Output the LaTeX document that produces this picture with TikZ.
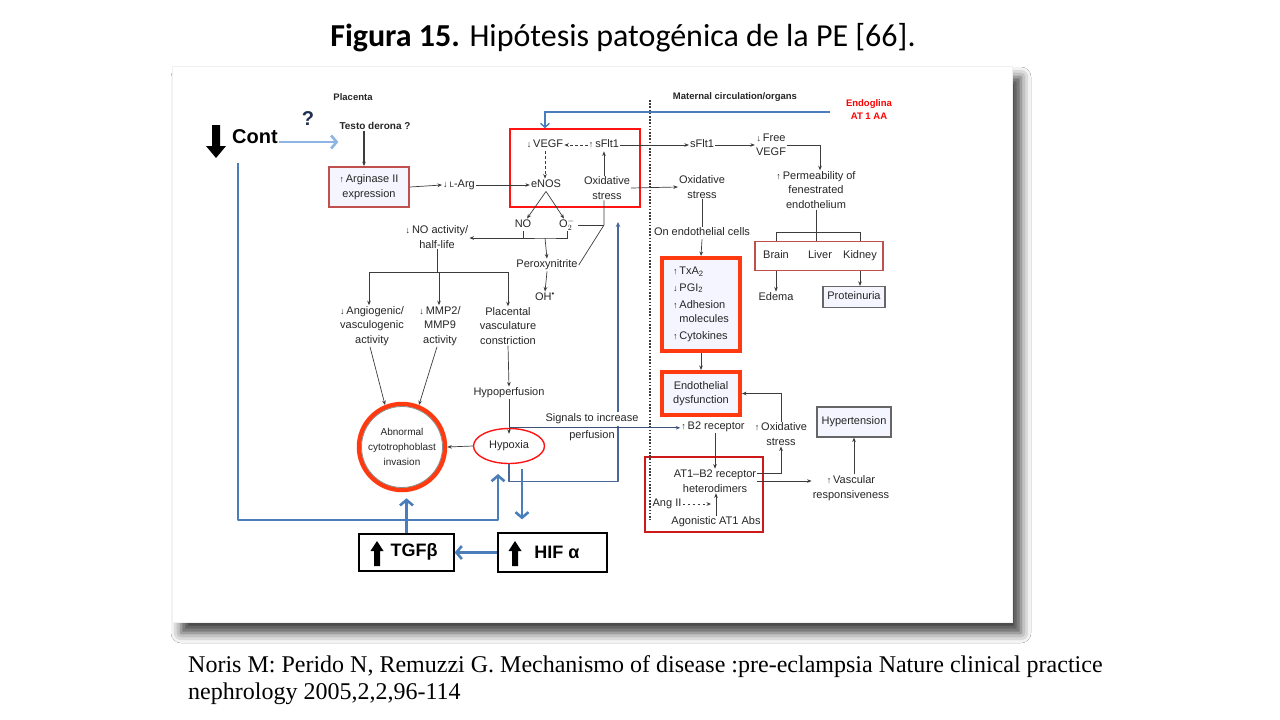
\documentclass[tikz,border=0pt]{standalone}
\usepackage{fontspec}
\setmainfont{Liberation Sans}
\newfontfamily\titlefont{Carlito}
\newfontfamily\reffont{Liberation Serif}
\usetikzlibrary{arrows.meta,shapes.geometric,shadows.blur,calc}
\definecolor{obl}{HTML}{4A7EBB}
\definecolor{lblue}{HTML}{8EB4E3}
\definecolor{bred}{HTML}{FF1414}
\definecolor{ored}{HTML}{FF3A10}
\definecolor{dred}{HTML}{C0504D}
\definecolor{mred}{HTML}{CC1A1A}
\definecolor{ln}{HTML}{3C3C3C}
\definecolor{lnb}{HTML}{4B679A}
\definecolor{navy}{HTML}{1F3050}
\definecolor{tx}{HTML}{262626}
\newcommand\myup{{\fontsize{9}{9}\selectfont↑}}
\newcommand\mydn{{\fontsize{9}{9}\selectfont↓}}
\begin{document}
\begin{tikzpicture}[x=1pt,y=-1pt,
  txt/.style={font=\fontsize{11}{14.5}\selectfont, align=center, inner sep=1pt, text=tx},
  one/.style={txt, text height=8pt, text depth=2.5pt},
  hdr/.style={font=\bfseries\fontsize{9.5}{12}\selectfont, inner sep=1pt, text=tx},
  conn/.style={draw=ln, line width=0.7pt},
  arr/.style={conn, -{Stealth[length=4.5pt,width=3.6pt]}},
  dasharr/.style={arr, dash pattern=on 2.5pt off 2.5pt},
  blarr/.style={draw=obl, line width=2.6pt, line join=round, -{Straight Barb[length=5.5pt,width=13pt]}},
  blthin/.style={draw=obl, line width=1.4pt, -{Straight Barb[length=4pt,width=9pt]}},
  lbarr/.style={draw=lblue, line width=2.6pt, -{Straight Barb[length=5.5pt,width=13pt]}},
  loopst/.style={draw=lnb, line width=1.4pt, line join=round, -{Stealth[length=5pt,width=4.5pt]}},
  tbox/.style={txt, draw=#1, fill=blue!4},
  bigbox/.style={draw=black, line width=1.3pt, fill=white},
  bigtxt/.style={font=\bfseries\fontsize{18}{20}\selectfont, inner sep=0pt}
]
\useasboundingbox (0,0) rectangle (1280,720);
\fill[white] (0,0) rectangle (1280,720);

% title and reference
\node[font=\titlefont\fontsize{32}{36}\selectfont] (title) at (623,38) {\textbf{Figura 15.} Hipótesis patogénica de la PE [66].};
\node[anchor=west, font=\reffont\fontsize{24}{28}\selectfont, inner sep=0pt] (ref1) at (188,667) {Noris M: Perido N, Remuzzi G. Mechanismo of disease :pre-eclampsia Nature clinical practice};
\node[anchor=west, font=\reffont\fontsize{24}{28}\selectfont, inner sep=0pt] (ref2) at (188,694) {nephrology 2005,2,2,96-114};

% frame with shadow
\path[fill=white, draw=black!6, blur shadow={shadow xshift=9pt, shadow yshift=-11pt, shadow blur radius=10pt, shadow opacity=75}] (172,66) rectangle (1012,622);

% headers
\node[hdr] (placenta) at (353,97) {Placenta};
\node[hdr] (maternal) at (735,97) {Maternal circulation/organs};
\node[font=\bfseries\fontsize{9.5}{13}\selectfont, text=red, align=center, inner sep=1pt] (endog) at (869,110) {Endoglina\\AT 1 AA};
\node[font=\bfseries\fontsize{20}{22}\selectfont, inner sep=1pt, text=black] (cont) at (255,137) {Cont};
\node[font=\bfseries\fontsize{20}{22}\selectfont, inner sep=0pt, text=navy] (qmark) at (308,119) {?};
\node[hdr, font=\bfseries\fontsize{10}{12}\selectfont] (testo) at (375,126) {Testo derona ?};
\fill[black] (212,125) -- (220,125) -- (220,146) -- (226,146) -- (216,158) -- (206,146) -- (212,146) -- cycle;

% placenta side
\node[tbox=dred, line width=1.8pt, minimum width=80, minimum height=40] (arg) at (369,187) {\myup\,Arginase II\\expression};
\node[one] (larg) at (459,185) {\mydn\,{\fontsize{8}{8}\selectfont L}-Arg};
\node[draw=bred, line width=1.6pt, minimum width=130, minimum height=78, inner sep=0pt] (vegfbox) at (575,168) {};
\node[one] (enos) at (546,185) {eNOS};
\node[one] (vegf) at (545,145) {\mydn\,VEGF};
\node[one] (sflt) at (604,145) {\myup\,sFlt1};
\node[txt] (ox1) at (607,188) {Oxidative\\stress};
\node[one] (no) at (523,225) {NO};
\node[one] (o2) at (567,225) {O$_2^-$};
\node[one] (perox) at (547,265) {Peroxynitrite};
\node[one] (oh) at (545,298) {OH\textsuperscript{\textbullet}};
\node[txt] (noact) at (437,237) {\mydn\,NO activity/\\half-life};
\node[txt] (angio) at (372,326) {\mydn\,Angiogenic/\\vasculogenic\\activity};
\node[txt] (mmp) at (440,326) {\mydn\,MMP2/\\MMP9\\activity};
\node[txt] (plac) at (508,326) {Placental\\vasculature\\constriction};
\node[one] (hypoperf) at (509,393) {Hypoperfusion};
\node[txt, ellipse, draw=bred, line width=1.4pt, minimum width=71, minimum height=35, inner sep=0pt] (hyp) at (509,446) {Hypoxia};
\node[txt, circle, draw=ored, line width=4.5pt, minimum size=86, inner sep=0pt, font=\fontsize{10}{15}\selectfont] (circ) at (402,447) {Abnormal\\cytotrophoblast\\invasion};
\draw[black!45, line width=0.8pt] (circ.center) circle (40.5);

% bottom boxes
\node[bigbox, minimum width=95, minimum height=37] (tgf) at (406.5,552.5) {};
\node[bigtxt] (tgft) at (414,552) {TGFβ};
\fill[black] (377,541) -- (383.5,551) -- (380,551) -- (380,566) -- (374,566) -- (374,551) -- (370.5,551) -- cycle;
\node[bigbox, minimum width=109, minimum height=39] (hif) at (552.5,552.5) {};
\node[bigtxt] (hift) at (557,552) {HIF α};
\fill[black] (515,541) -- (521.5,551) -- (518,551) -- (518,566) -- (512,566) -- (512,551) -- (508.5,551) -- cycle;

% maternal side
\node[one] (sflt2) at (702,145) {sFlt1};
\node[txt] (free) at (771,145) {\mydn\,Free\\VEGF};
\node[txt] (perm) at (816,190) {\myup\,Permeability of\\fenestrated\\endothelium};
\node[draw=dred, line width=1.6pt, minimum width=128, minimum height=29, inner sep=0pt] (organs) at (819,256) {};
\node[one] (brain) at (776,256) {Brain};
\node[one] (liver) at (820,256) {Liver};
\node[one] (kidney) at (860,256) {Kidney};
\node[one] (edema) at (776,298) {Edema};
\node[tbox=black!60, line width=1.2pt, minimum width=62, minimum height=21, text height=8pt, text depth=2.5pt] (prot) at (854,297) {Proteinuria};
\node[txt] (ox2) at (702,187) {Oxidative\\stress};
\node[one] (endo) at (702,233) {On endothelial cells};
\node[tbox=ored, line width=4pt, minimum width=78, minimum height=93, align=left, font=\fontsize{11}{13.5}\selectfont] (txbox) at (701,304.5) {\myup\,TxA\textsubscript{2}\\[3pt]\mydn\,PGI\textsubscript{2}\\[4pt]\myup\,Adhesion\\\phantom{\myup\,}molecules\\[4pt]\myup\,Cytokines};
\node[tbox=ored, line width=4pt, minimum width=78, minimum height=43] (endys) at (701,393.5) {Endothelial\\dysfunction};
\node[one] (b2) at (713,427) {\myup\,B2 receptor};
\node[txt] (ox3) at (781,434) {\myup\,Oxidative\\stress};
\node[draw=mred, line width=1.8pt, minimum width=118, minimum height=75, inner sep=0pt] (at1box) at (704,494.5) {};
\node[txt] (at1) at (715,481) {AT1--B2 receptor\\heterodimers};
\node[one] (ang) at (667,504) {Ang II};
\node[one] (agon) at (716,522) {Agonistic AT1 Abs};
\node[txt] (vasc) at (851,488) {\myup\,Vascular\\responsiveness};
\node[tbox=black!60, line width=1.2pt, minimum width=74, minimum height=30, text height=8pt, text depth=2.5pt] (hyper) at (854,422) {Hypertension};

% coordinates
\coordinate (d1) at (650,100);
\coordinate (d2) at (650,520);
\coordinate (e1) at (830,112);
\coordinate (brk) at (545,238);
\coordinate (tr) at (0,272);
\coordinate (bk) at (0,232);
\coordinate (loopend) at (618,222);
\coordinate (c1) at (238,163);
\coordinate (hypin) at (498,474);
\coordinate (h1) at (522,469);

% dotted border
\draw[ln, line width=1.6pt, dash pattern=on 1.6pt off 1.6pt] (d1) -- (d2);

% left connectors
\draw[lbarr] ([yshift=-5pt]cont.east) -- ([yshift=-5pt]cont.east -| testo.west);
\draw[arr, line width=1.1pt] ([xshift=-5pt]arg.north |- testo.south) -- ([xshift=-5pt]arg.north);
\draw[arr] (arg.east) -- (larg.west);
\draw[arr] (larg.east) -- (enos.west);
\draw[dasharr] (sflt.west) -- (vegf.east);
\draw[dasharr] (vegf.south) -- (vegf.south |- enos.north);
\draw[arr] (sflt.south |- ox1.north) -- (sflt.south);
\draw[arr] (enos.south) -- ([xshift=4pt]no.north);
\draw[arr] (enos.south) -- ([xshift=-3pt]o2.north);
\draw[conn] (no.south) |- (brk) -| (o2.south);
\draw[arr] (brk) -- (perox.north);
\draw[arr] (no.south |- brk) -- (noact.east |- brk);
\draw[conn] ([xshift=2pt]o2.east) -- ([xshift=-3pt]ox1.south |- o2.east);
\draw[conn] ([xshift=-3pt]ox1.south) -- ([xshift=-3pt]ox1.south |- o2.east) -- (perox.east);
\draw[arr] (perox.south) -- (oh.north);
\draw[conn] (noact.south) -- (noact.south |- tr);
\draw[conn] ([xshift=-3pt]angio.north |- tr) -- (plac.north |- tr);
\draw[arr] ([xshift=-3pt]angio.north |- tr) -- ([xshift=-3pt]angio.north);
\draw[arr] ([xshift=-1pt]mmp.north |- tr) -- ([xshift=-1pt]mmp.north);
\draw[arr] (plac.north |- tr) -- (plac.north);
\draw[arr] ([xshift=-2pt]angio.south) -- (circ.112);
\draw[arr] ([xshift=-3pt]mmp.south) -- (circ.68);
\draw[arr] (plac.south) -- (hypoperf.north);
\draw[arr] (hypoperf.south) -- ([yshift=-6pt]hyp.north);
\draw[arr] (hyp.west) -- (circ.east);

% hypoxia feedback loop
\draw[loopst] (hyp.south) -- ++(0,17) -| (loopend);
\node[txt, fill=white, inner sep=1.5pt] (sig1) at (592,419) {Signals to increase};
\node[txt, fill=white, inner sep=1.5pt] (sig2) at (592,436) {perfusion};
\draw[arr, draw=lnb!80!black] (hyp.north) -- (hyp.north -| b2.west);

% blue arrows
\draw[blarr] (c1) |- ([yshift=-46pt]hypin) -- (hypin);
\draw[blarr] (tgf.north) -- ([yshift=-6pt]circ.south -| tgf.north);
\draw[blarr, shorten >=13pt] (h1) -- (h1 |- hif.north);
\draw[blarr] (hif.west) -- (tgf.east);
\draw[blthin] (e1) -| (vegf.north |- vegfbox.north);

% maternal connectors
\draw[arr] (sflt.east) -- (sflt2.west);
\draw[arr] (sflt2.east) -- (free.west);
\draw[arr] (free.east) -| ([xshift=4pt]perm.north);
\draw[conn] (perm.south) -- (perm.south |- organs.north);
\draw[conn] (brain.north |- organs.north) |- (kidney.north |- bk) -- (kidney.north |- organs.north);
\draw[arr] (brain.south |- organs.south) -- (edema.north);
\draw[arr] (kidney.south |- organs.south) -- (kidney.south |- prot.north);
\draw[arr] (ox1.east) -- (ox2.west);
\draw[conn] (ox2.south) -- (endo.north);
\draw[arr] (endo.south) -- (txbox.north);
\draw[arr] (txbox.south) -- (endys.north);
\draw[arr] (ox3.north) |- (endys.east);
\draw[arr] (at1.north |- b2.south) -- (at1.north);
\draw[arr] (at1.east) -- (at1.east -| vasc.west);
\draw[arr] ([yshift=8pt]at1.east) -| (ox3.south);
\draw[dasharr] (ang.east) -- ([xshift=-5pt]agon.north |- ang.east);
\draw[arr] (agon.north) -- (agon.north |- at1.south);
\draw[arr] (hyper.south |- vasc.north) -- (hyper.south);
\end{tikzpicture}
\end{document}
